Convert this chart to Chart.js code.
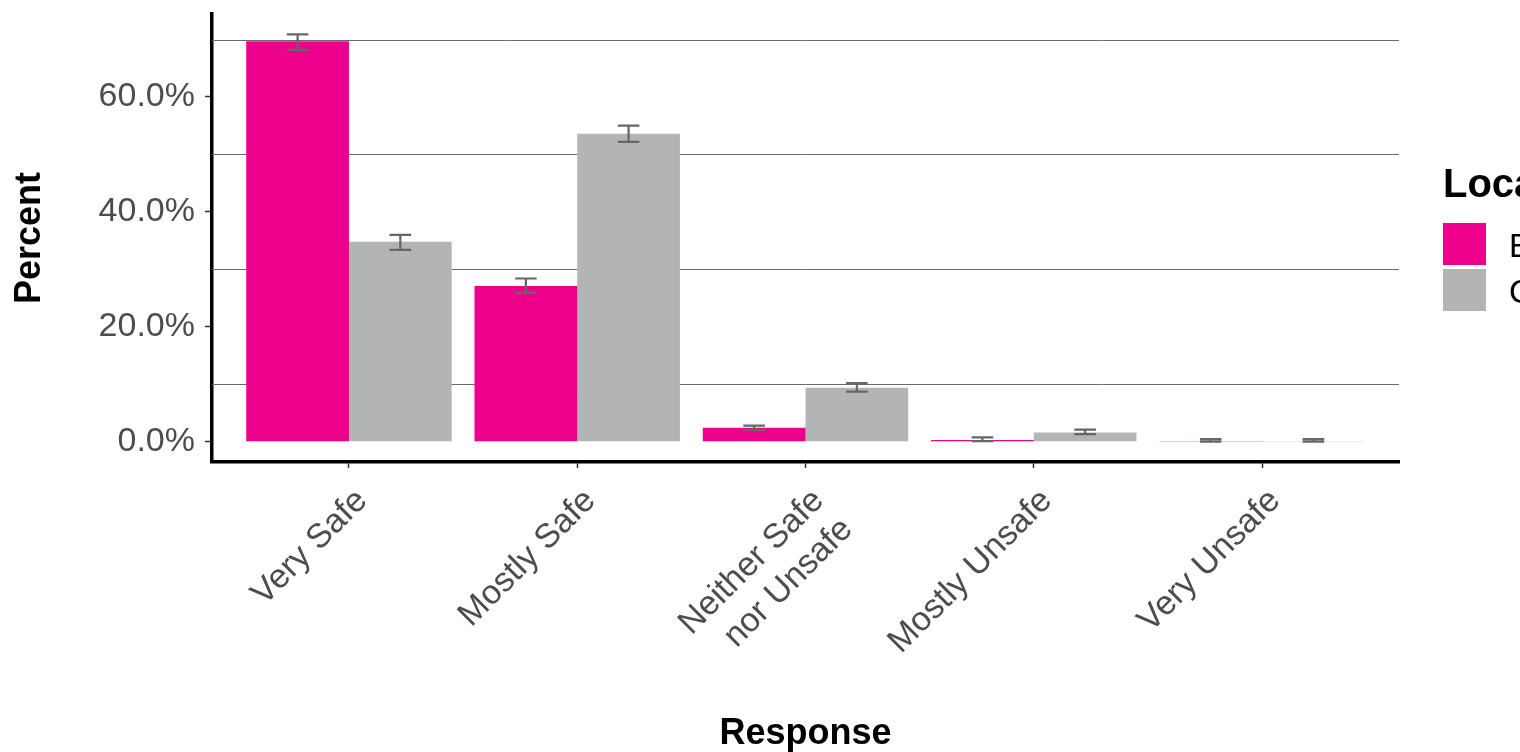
<!DOCTYPE html>
<html>
<head>
<meta charset="utf-8">
<script src="https://cdn.jsdelivr.net/npm/chart.js@4.4.1/dist/chart.umd.min.js"></script>
<style>
  html, body { margin: 0; padding: 0; background: #fff; overflow: hidden; }
</style>
</head>
<body>
<canvas id="mycanvas" width="1520" height="752"></canvas>
<script>
// categories on the x axis
var categories = ["Very Safe", "Mostly Safe", "Neither Safe\nnor Unsafe", "Mostly Unsafe", "Very Unsafe"];

// series (legend is cut off at the right edge in the original)
var seriesNames = ["Edmonton", "Canada"];
var seriesColors = ["#EC008C", "#B3B4B6"];

// percent values
var edmonton = [69.7, 27.1, 2.4, 0.3, 0.1];
var edmontonLow = [68.2, 25.9, 2.0, 0.1, 0.0];
var edmontonHigh = [70.9, 28.4, 2.8, 0.75, 0.45];

var canada = [34.8, 53.6, 9.4, 1.6, 0.1];
var canadaLow = [33.4, 52.2, 8.7, 1.3, 0.0];
var canadaHigh = [36.0, 55.0, 10.2, 2.1, 0.45];

// y axis labels and the (unlabelled) lines between them
var yTicks = [0, 20, 40, 60];
var yGridLines = [10, 30, 50, 70];

var lows = [edmontonLow, canadaLow];
var highs = [edmontonHigh, canadaHigh];

Chart.defaults.font.family = "'Liberation Sans', Arial, sans-serif";

function toPoints(vals) {
  return vals.map(function(v, i) { return { x: i + 1, y: v }; });
}

var topValue = Math.max.apply(null, edmontonHigh.concat(canadaHigh));

// minor grid lines, behind the bars
var gridPlugin = {
  id: "minorGrid",
  beforeDatasetsDraw: function(chart) {
    var ctx = chart.ctx;
    var y = chart.scales.y;
    var area = chart.chartArea;
    ctx.save();
    ctx.strokeStyle = "#6b6b6b";
    ctx.lineWidth = 1;
    yGridLines.forEach(function(v) {
      var py = Math.round(y.getPixelForValue(v)) + 0.5;
      ctx.beginPath();
      ctx.moveTo(area.left, py);
      ctx.lineTo(area.right, py);
      ctx.stroke();
    });
    ctx.restore();
  }
};

// error bars on top of each bar
var errorPlugin = {
  id: "errorBars",
  afterDatasetsDraw: function(chart) {
    var ctx = chart.ctx;
    var y = chart.scales.y;
    ctx.save();
    ctx.strokeStyle = "#666666";
    ctx.lineWidth = 2.2;
    chart.data.datasets.forEach(function(ds, d) {
      var meta = chart.getDatasetMeta(d);
      meta.data.forEach(function(bar, i) {
        var yl = y.getPixelForValue(lows[d][i]);
        var yh = y.getPixelForValue(highs[d][i]);
        var half = bar.width * 0.105;
        ctx.beginPath();
        ctx.moveTo(bar.x, yl);
        ctx.lineTo(bar.x, yh);
        ctx.moveTo(bar.x - half, yl);
        ctx.lineTo(bar.x + half, yl);
        ctx.moveTo(bar.x - half, yh);
        ctx.lineTo(bar.x + half, yh);
        ctx.stroke();
      });
    });
    ctx.restore();
  }
};

// ggplot style legend on the right, runs off the canvas
var legendPlugin = {
  id: "sideLegend",
  afterDraw: function(chart) {
    var ctx = chart.ctx;
    var x0 = chart.chartArea.right + 44;
    ctx.save();
    ctx.fillStyle = "#000";
    ctx.textBaseline = "alphabetic";
    ctx.textAlign = "left";
    ctx.font = "bold 40px 'Liberation Sans', Arial, sans-serif";
    ctx.fillText("Location", x0, 197);
    ctx.font = "33px 'Liberation Sans', Arial, sans-serif";
    chart.data.datasets.forEach(function(ds, d) {
      var top = 223 + d * 46;
      ctx.fillStyle = ds.backgroundColor;
      ctx.fillRect(x0, top, 43, 42);
      ctx.fillStyle = "#000";
      ctx.fillText(ds.label, x0 + 66, top + 34);
    });
    ctx.restore();
  }
};

var chartdata = {
  datasets: [
    {
      label: seriesNames[0],
      backgroundColor: seriesColors[0],
      borderWidth: 0,
      data: toPoints(edmonton)
    },
    {
      label: seriesNames[1],
      backgroundColor: seriesColors[1],
      borderWidth: 0,
      data: toPoints(canada)
    }
  ]
};

var ctx = document.getElementById("mycanvas");

var BarGraph = new Chart(ctx, {
  type: "bar",
  data: chartdata,
  plugins: [gridPlugin, errorPlugin, legendPlugin],
  options: {
    responsive: false,
    animation: false,
    events: [],
    layout: { padding: { top: 14, right: 121, bottom: 0, left: 0 } },
    datasets: {
      bar: { categoryPercentage: 0.9, barPercentage: 1.0 }
    },
    plugins: {
      legend: { display: false },
      tooltip: { enabled: false }
    },
    scales: {
      x: {
        type: "linear",
        offset: false,
        min: 0.4,
        max: categories.length + 0.6,
        afterBuildTicks: function(scale) {
          scale.ticks = categories.map(function(c, i) { return { value: i + 1 }; });
        },
        afterFit: function(scale) {
          scale.height = 290;
          scale.paddingLeft = 0;
          scale.paddingRight = 0;
        },
        grid: { offset: false, drawOnChartArea: false, drawTicks: true, tickLength: 6, tickColor: "#333", tickWidth: 1.5 },
        border: { display: true, color: "#000", width: 3.5 },
        ticks: {
          autoSkip: false,
          minRotation: 45,
          maxRotation: 45,
          padding: 13,
          labelOffset: 13,
          color: "#4D4D4D",
          font: { size: 34 },
          callback: function(v) {
            return categories[v - 1].split("\n");
          }
        },
        title: {
          display: true,
          text: "Response",
          color: "#000",
          font: { size: 36, weight: "bold", lineHeight: 1 },
          padding: { top: 0, bottom: 0 }
        }
      },
      y: {
        min: -0.05 * topValue,
        max: 1.05 * topValue,
        afterBuildTicks: function(scale) {
          scale.ticks = yTicks.map(function(v) { return { value: v }; });
        },
        afterFit: function(scale) {
          scale.width = 212;
          scale.paddingTop = 0;
          scale.paddingBottom = 0;
        },
        grid: { drawOnChartArea: false, drawTicks: true, tickLength: 7, tickColor: "#333", tickWidth: 1.5 },
        border: { display: true, color: "#000", width: 3.5 },
        ticks: {
          padding: 10,
          color: "#4D4D4D",
          font: { size: 34 },
          callback: function(v) { return v.toFixed(1) + "%"; }
        },
        title: {
          display: true,
          text: "Percent",
          color: "#000",
          font: { size: 36, weight: "bold", lineHeight: 1 },
          padding: { top: 12, bottom: 0 }
        }
      }
    }
  }
});
</script>
</body>
</html>
